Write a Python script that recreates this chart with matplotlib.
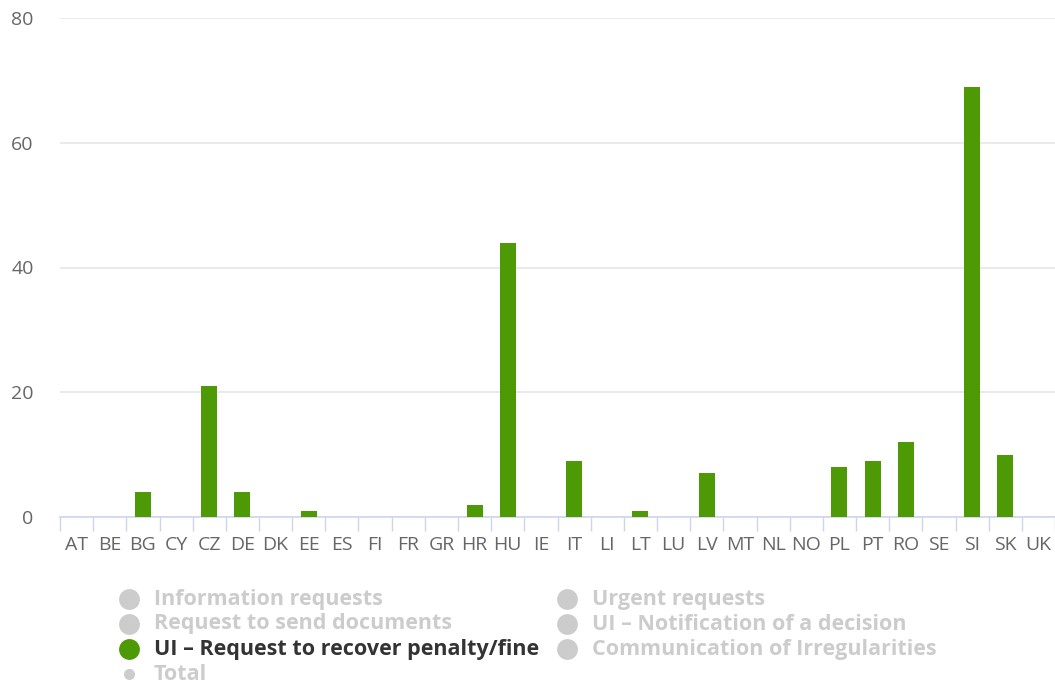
import numpy as np
import matplotlib
matplotlib.use('Agg')
from matplotlib import pyplot as plt
from matplotlib.lines import Line2D

## data
countries = ['AT', 'BE', 'BG', 'CY', 'CZ', 'DE', 'DK', 'EE', 'ES', 'FI', 'FR', 'GR', 'HR', 'HU', 'IE',
             'IT', 'LI', 'LT', 'LU', 'LV', 'MT', 'NL', 'NO', 'PL', 'PT', 'RO', 'SE', 'SI', 'SK', 'UK']
penalty = [0, 0, 4, 0, 21, 4, 0, 1, 0, 0, 0, 0, 2, 44, 0,
           9, 0, 1, 0, 7, 0, 0, 0, 8, 9, 12, 0, 69, 10, 0]
y_ticks = [0, 20, 40, 60, 80]

legend_col1 = ['Information requests', 'Request to send documents', 'UI \u2013 Request to recover penalty/fine', 'Total']
legend_col2 = ['Urgent requests', 'UI \u2013 Notification of a decision', 'Communication of Irregularities']
active = 'UI \u2013 Request to recover penalty/fine'

green = '#4e9a06'
grey = '#cccccc'
plt.rcParams['font.family'] = ['Open Sans', 'DejaVu Sans']

fig = plt.figure(figsize=(10.55, 6.84), dpi=100)
ax = fig.add_axes([60/1055, 1-517/684, 995/1055, 499/684])

x = np.arange(len(countries))
ax.bar(x, penalty, width=0.48, color=green, zorder=3)

ax.set_xlim(-0.5, len(countries)-0.5)
ax.set_ylim(0, 80)
ax.set_yticks(y_ticks)
ax.set_yticklabels([str(v) for v in y_ticks], fontsize=14, color='#666666')
ax.yaxis.grid(True, color='#e6e6e6', linewidth=1.2, zorder=0)
ax.tick_params(axis='y', length=0, pad=19)

ax.set_xticks(x)
ax.set_xticklabels(countries, fontsize=14, color='#666666')
ax.set_xticks(np.arange(-0.5, len(countries)), minor=True)
ax.tick_params(axis='x', which='major', length=0, pad=14)
ax.tick_params(axis='x', which='minor', length=10, color='#ccd6eb', width=1)

for s in ['top', 'right', 'left']:
    ax.spines[s].set_visible(False)
ax.spines['bottom'].set_color('#ccd6eb')
ax.spines['bottom'].set_linewidth(1.2)

## legend drawn by hand
rows_y = [599, 624, 649, 674]
def legend_item(px, py, label, small=False):
    col = green if label == active else grey
    tcol = '#333333' if label == active else grey
    fig.add_artist(Line2D([px/1055], [1-py/684], marker='o', markersize=8 if small else 15,
                          color=col, markeredgewidth=0, transform=fig.transFigure))
    fig.text((px+25)/1055, 1-py/684, label, fontsize=15.5, color=tcol, va='center',
             fontweight='bold')

for i, lab in enumerate(legend_col1):
    legend_item(129, rows_y[i], lab, small=(lab == 'Total'))
for i, lab in enumerate(legend_col2):
    legend_item(567, rows_y[i], lab)

fig.savefig('out.png', dpi=100)
